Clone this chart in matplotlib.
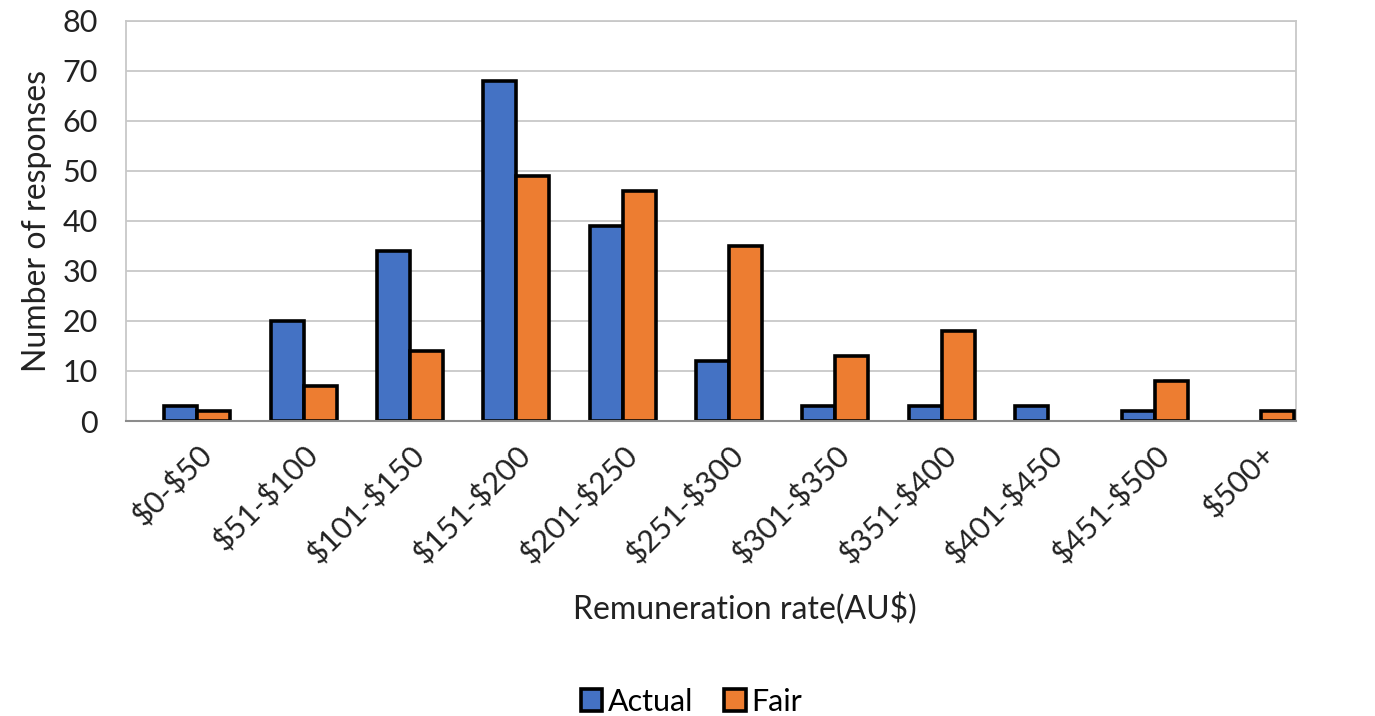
import matplotlib.pyplot as plt
import numpy as np

plt.rcParams['font.family'] = ['Lato', 'DejaVu Sans']
plt.rcParams['text.parse_math'] = False

categories = ['$0-$50', '$51-$100', '$101-$150', '$151-$200', '$201-$250',
              '$251-$300', '$301-$350', '$351-$400', '$401-$450',
              '$451-$500', '$500+']
actual = [3, 20, 34, 68, 39, 12, 3, 3, 3, 2, 0]
fair = [2, 7, 14, 49, 46, 35, 13, 18, 0, 8, 2]

x = np.arange(len(categories))
w = 0.31
edge = 2.6

fig = plt.figure(figsize=(13.75, 7.16), dpi=100)
ax = fig.add_axes([0.0916, 0.412, 0.851, 0.559])

# empty categories get no outline, so nothing shows on the baseline
ax.bar(x - w / 2, actual, w, color='#4472c4', edgecolor='black',
       linewidth=[edge if v else 0 for v in actual], label='Actual', zorder=3)
ax.bar(x + w / 2, fair, w, color='#ed7d31', edgecolor='black',
       linewidth=[edge if v else 0 for v in fair], label='Fair', zorder=3)

ax.set_xlim(-0.67, len(categories) - 0.67)
ax.set_ylim(0, 80)
ax.set_yticks(range(0, 81, 10))
ax.yaxis.grid(True, color='#c8c8c8', linewidth=1.3, zorder=0)
ax.set_axisbelow(True)

for side in ['left', 'right', 'top']:
    ax.spines[side].set_color('#c8c8c8')
    ax.spines[side].set_linewidth(1.3)
ax.spines['bottom'].set_color('#8c8c8c')
ax.spines['bottom'].set_linewidth(1.5)
ax.spines['bottom'].set_zorder(4)

ax.set_xticks(x)
ax.set_xticklabels(categories, rotation=45, ha='right', rotation_mode='anchor')
ax.tick_params(axis='both', length=0, labelsize=22, colors='#222222')
ax.tick_params(axis='x', pad=14)
ax.tick_params(axis='y', pad=20)

ax.set_ylabel('Number of responses', fontsize=23, color='#222222', labelpad=8)
ax.set_xlabel('Remuneration rate(AU$)', fontsize=23, color='#222222', labelpad=19)
ax.xaxis.set_label_coords(0.529, -0.43)

fig.legend(loc='lower center', bbox_to_anchor=(0.503, -0.038), ncol=2, frameon=False,
           fontsize=22, handlelength=0.7, handleheight=0.7, handletextpad=0.2,
           columnspacing=1.0)

fig.savefig('out.png', dpi=100)
